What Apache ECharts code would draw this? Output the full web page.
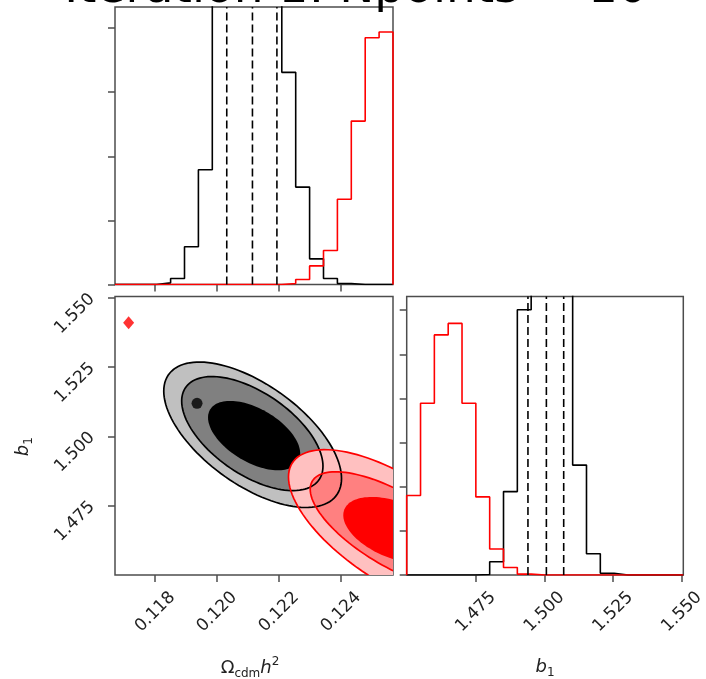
<!DOCTYPE html>
<html>
<head>
<meta charset="utf-8">
<script src="https://cdn.jsdelivr.net/npm/echarts@6/dist/echarts.min.js"></script>
<style>
  html, body { margin: 0; padding: 0; background: #ffffff; }
  #chart { width: 706px; height: 679px; }
</style>
</head>
<body>
<div id="chart"></div>
<script>
// ---- data ----
const titleText = 'Iteration 1: Npoints = 10';

const omegaRange = [0.1167, 0.12568];
const b1Range = [1.4499, 1.5505];
const omegaTicks = [0.118, 0.120, 0.122, 0.124];
const b1Ticks = [1.475, 1.500, 1.525, 1.550];

const nBins = 20;
const omegaHistTicks = [0, 1, 2, 3, 4];
const omegaHistMax = 4.33;
const b1HistTicks = [0, 1, 2, 3, 4, 5, 6];
const b1HistMax = 6.31;

// binned marginal densities (20 bins across each range)
const omegaHistBlack = [0, 0, 0, 0.026, 0.094, 0.59, 1.79, 4.6, 7.7, 9.8, 9.3, 6.3, 3.31, 1.52, 0.40, 0.094, 0.016, 0, 0, 0];
const omegaHistRed   = [0, 0, 0, 0, 0, 0, 0, 0, 0, 0, 0, 0, 0.016, 0.078, 0.29, 0.53, 1.33, 2.55, 3.85, 3.94];
const b1HistBlack    = [0, 0, 0, 0, 0, 0.01, 0.30, 1.89, 6.01, 11.6, 12.5, 7.4, 2.49, 0.48, 0.04, 0, 0, 0, 0, 0];
const b1HistRed      = [1.80, 3.89, 5.44, 5.70, 3.89, 1.77, 0.59, 0.17, 0.02, 0, 0, 0, 0, 0, 0, 0, 0, 0, 0, 0];

// 16 / 50 / 84 percent quantiles of the black posterior
const omegaQuantiles = [0.12031, 0.12114, 0.12193];
const b1Quantiles = [1.4940, 1.5007, 1.5070];

// credible contours as ellipses: [centre x, centre y, half extent x, half extent y, correlation]
const blackContours = [
  [0.121146, 1.50055, 0.002871, 0.02627, -0.60],
  [0.121136, 1.50098, 0.002282, 0.02060, -0.57],
  [0.121194, 1.50025, 0.001489, 0.01254, -0.52]
];
const redContours = [
  [0.125757, 1.46610, 0.003453, 0.02907, -0.66],
  [0.125757, 1.46610, 0.002751, 0.02108, -0.70],
  [0.125757, 1.46610, 0.001683, 0.01200, -0.45]
];
const blackIsland = [0.11935, 1.5119];
const redMarker = [0.11714, 1.5410];

// ---- styling ----
const FONT = 'DejaVu Sans';
const frameColor = '#4d4d4d';
const textColor = '#222222';
const blackFills = ['#c0c0c0', '#808080', '#000000'];
const redFills = ['#ffc0c0', '#ff8080', '#ff0000'];

// ---- helpers ----
function binEdges(r) {
  const e = [];
  for (let i = 0; i <= nBins; i++) e.push(r[0] + (r[1] - r[0]) * i / nBins);
  return e;
}
function stepPoints(r, h) {
  const e = binEdges(r);
  const pts = [[e[0], 0]];
  h.forEach((v, i) => { pts.push([e[i], v], [e[i + 1], v]); });
  pts.push([e[nBins], 0]);
  return pts;
}
function ellipseOutline(c) {
  const [cx, cy, ax, ay, rho] = c;
  const s = Math.sqrt(1 - rho * rho);
  const pts = [];
  for (let k = 0; k < 120; k++) {
    const t = 2 * Math.PI * k / 120;
    pts.push([cx + ax * Math.cos(t), cy + ay * (rho * Math.cos(t) + s * Math.sin(t))]);
  }
  return pts;
}
const fmt3 = v => Number(v).toFixed(3);

function tickStyle(values) {
  return { show: true, inside: false, length: 7, customValues: values,
           lineStyle: { color: frameColor, width: 1.5 } };
}
function rotatedLabelX(values) {
  return { show: true, customValues: values, rotate: 45, align: 'center', verticalAlign: 'middle',
           margin: 37, formatter: fmt3, fontFamily: FONT, fontSize: 17, color: textColor };
}
function rotatedLabelY(values) {
  return { show: true, customValues: values, rotate: 45, align: 'center', verticalAlign: 'top',
           lineHeight: 45, margin: 56, formatter: fmt3, fontFamily: FONT, fontSize: 17, color: textColor };
}
const subRich = {
  o: { fontFamily: FONT, fontSize: 18, lineHeight: 24, color: textColor },
  i: { fontFamily: FONT, fontSize: 18, lineHeight: 24, fontStyle: 'italic', color: textColor },
  s: { fontFamily: FONT, fontSize: 12, lineHeight: 12, verticalAlign: 'bottom', color: textColor },
  p: { fontFamily: FONT, fontSize: 12, lineHeight: 12, verticalAlign: 'top', color: textColor }
};
const omegaName = '{o|Ω}{s|cdm}{i|h}{p|2}';
const b1Name = '{i|b}{s|1}';

const grids = [
  { left: 115, top: 7, width: 278, height: 277.5 },
  { left: 115, top: 296.5, width: 278, height: 278.5 },
  { left: 406.7, top: 296.5, width: 276.6, height: 278.5 }
].map(g => Object.assign(g, { show: true, borderColor: frameColor, borderWidth: 1.5,
  backgroundColor: 'transparent', containLabel: false, outerBoundsMode: 'none' }));

const baseAxis = { type: 'value', splitLine: { show: false }, axisLine: { show: false } };

const xAxes = [
  Object.assign({}, baseAxis, { gridIndex: 0, min: omegaRange[0], max: omegaRange[1],
    axisTick: tickStyle(omegaTicks), axisLabel: { show: false } }),
  Object.assign({}, baseAxis, { gridIndex: 1, min: omegaRange[0], max: omegaRange[1],
    axisTick: tickStyle(omegaTicks), axisLabel: rotatedLabelX(omegaTicks),
    name: omegaName, nameLocation: 'middle', nameGap: 81, nameMoveOverlap: false,
    nameTextStyle: { rich: subRich, padding: [0, 8, 0, 0] } }),
  Object.assign({}, baseAxis, { gridIndex: 2, min: b1Range[0], max: b1Range[1],
    axisTick: tickStyle(b1Ticks), axisLabel: rotatedLabelX(b1Ticks),
    name: b1Name, nameLocation: 'middle', nameGap: 80, nameMoveOverlap: false,
    nameTextStyle: { rich: subRich } })
];
const yAxes = [
  Object.assign({}, baseAxis, { gridIndex: 0, min: 0, max: omegaHistMax,
    axisTick: tickStyle(omegaHistTicks), axisLabel: { show: false } }),
  Object.assign({}, baseAxis, { gridIndex: 1, min: b1Range[0], max: b1Range[1],
    axisTick: tickStyle(b1Ticks), axisLabel: rotatedLabelY(b1Ticks),
    name: b1Name, nameLocation: 'middle', nameGap: 80, nameMoveOverlap: false,
    nameTextStyle: { rich: subRich, padding: [0, 22, 0, 0] } }),
  Object.assign({}, baseAxis, { gridIndex: 2, min: 0, max: b1HistMax,
    axisTick: tickStyle(b1HistTicks), axisLabel: { show: false } })
];

function histSeries(axis, range, heights, color, z) {
  return {
    type: 'line', xAxisIndex: axis, yAxisIndex: axis, data: stepPoints(range, heights),
    showSymbol: false, symbol: 'none', clip: true, silent: true, animation: false,
    lineStyle: { color: color, width: 1.6 }, z: z
  };
}
// vertical dashed quantile markers spanning the panel height
function quantileSeries(axis, q, top) {
  return {
    type: 'line', xAxisIndex: axis, yAxisIndex: axis, data: [[q, 0], [q, top]],
    showSymbol: false, symbol: 'none', clip: true, silent: true, animation: false,
    lineStyle: { color: '#000000', width: 1.6, type: [8, 4] }, z: 5
  };
}

// filled layers first (black then red), outlines on top
const fillLayers = [];
blackContours.forEach((c, i) => fillLayers.push({ c: c, color: blackFills[i] }));
redContours.forEach((c, i) => fillLayers.push({ c: c, color: redFills[i] }));
const lineLayers = [];
blackContours.slice(0, 2).forEach(c => lineLayers.push({ c: c, color: '#000000' }));
redContours.slice(0, 2).forEach(c => lineLayers.push({ c: c, color: '#ff0000' }));

function contourSeries(layers, filled, z) {
  return {
    type: 'custom', xAxisIndex: 1, yAxisIndex: 1, clip: true, silent: true, animation: false, z: z,
    data: layers.map(l => [l.c[0], l.c[1]]),
    renderItem: function (params, api) {
      const l = layers[params.dataIndex];
      const pts = ellipseOutline(l.c).map(p => api.coord(p));
      return {
        type: 'polygon', shape: { points: pts },
        style: filled ? { fill: l.color, stroke: null }
                      : { fill: null, stroke: l.color, lineWidth: 1.7 }
      };
    }
  };
}

const series = [
  histSeries(0, omegaRange, omegaHistBlack, '#000000', 3),
  histSeries(0, omegaRange, omegaHistRed, '#ff0000', 4),
  histSeries(2, b1Range, b1HistBlack, '#000000', 3),
  histSeries(2, b1Range, b1HistRed, '#ff0000', 4),
  ...omegaQuantiles.map(q => quantileSeries(0, q, omegaHistMax)),
  ...b1Quantiles.map(q => quantileSeries(2, q, b1HistMax)),
  contourSeries(fillLayers, true, 2),
  {
    type: 'scatter', xAxisIndex: 1, yAxisIndex: 1, data: [blackIsland], symbol: 'circle', symbolSize: 11,
    itemStyle: { color: '#000000' }, silent: true, animation: false, z: 2
  },
  contourSeries(lineLayers, false, 3),
  {
    type: 'scatter', xAxisIndex: 1, yAxisIndex: 1, data: [redMarker], symbol: 'diamond', symbolSize: [11, 13],
    itemStyle: { color: '#ff0000' }, silent: true, animation: false, z: 4
  }
];

const chart = echarts.init(document.getElementById('chart'), null, { renderer: 'canvas' });
chart.setOption({
  backgroundColor: '#ffffff',
  animation: false,
  textStyle: { fontFamily: FONT },
  graphic: [{
    type: 'text', x: 356, y: -10, silent: true,
    style: { text: titleText, fontFamily: FONT, fontSize: 47, fill: '#000000',
             align: 'center', verticalAlign: 'middle' }
  }],
  grid: grids,
  xAxis: xAxes,
  yAxis: yAxes,
  series: series
});
</script>
</body>
</html>
